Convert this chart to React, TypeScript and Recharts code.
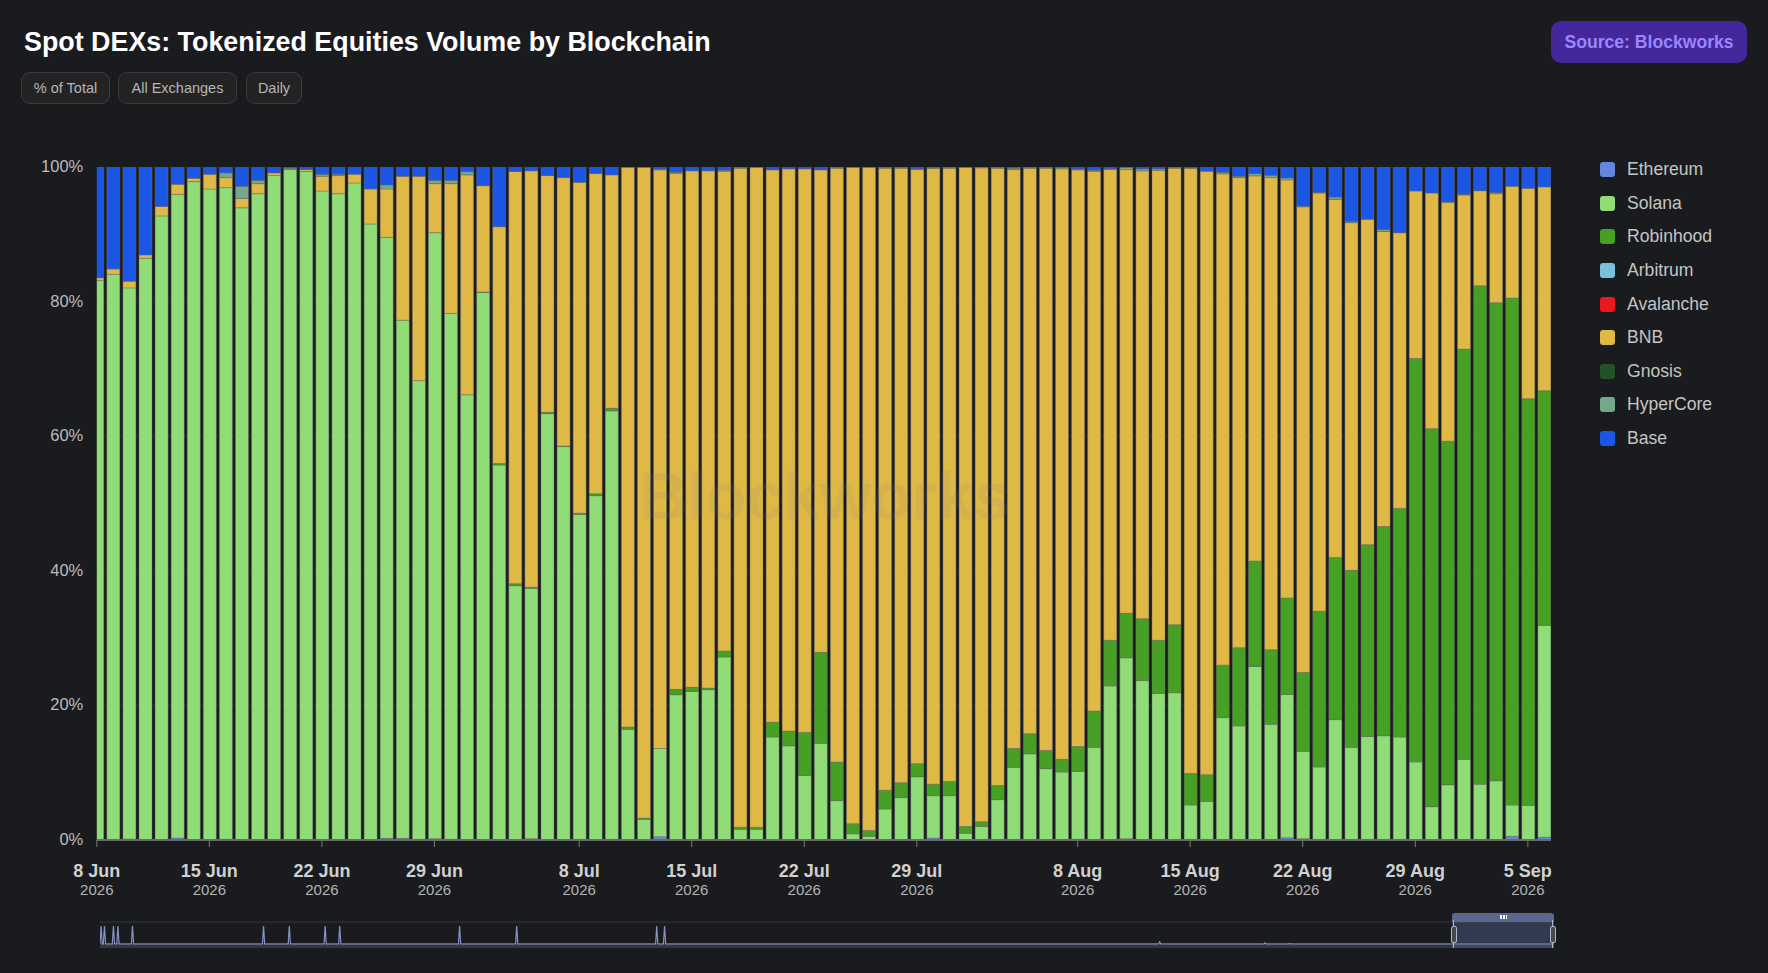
import React from "react";
import { BarChart, Bar, XAxis, YAxis, CartesianGrid, LineChart, Line } from "recharts";

const tickLabels = ["8 Jun", "15 Jun", "22 Jun", "29 Jun", "8 Jul", "15 Jul", "22 Jul", "29 Jul", "8 Aug", "15 Aug", "22 Aug", "29 Aug", "5 Sep"];
const tickDays = [0, 7, 14, 21, 30, 37, 44, 51, 61, 68, 75, 82, 89];

// share of daily volume, one entry per day from 8 Jun to 6 Sep
const ethereum = [
  0, 0, 0.15, 0, 0, 0.3, 0, 0, 0.1, 0.05, 0, 0, 0, 0, 0, 0, 0, 0, 0.25, 0.25, 0.1, 0.2, 0.1, 0, 0, 0, 0, 0.2, 0, 0, 0.1,
  0, 0.1, 0, 0, 0.5, 0, 0, 0, 0, 0, 0, 0, 0, 0, 0, 0, 0, 0, 0, 0, 0, 0.3, 0, 0, 0, 0, 0, 0, 0, 0,
  0.1, 0, 0.05, 0.2, 0, 0, 0, 0, 0, 0, 0, 0, 0, 0.35, 0.2, 0, 0, 0, 0, 0, 0, 0, 0, 0, 0, 0, 0, 0.55, 0, 0.4,
];
const solana = [
  83.2, 84.1, 81.95, 86.5, 92.8, 95.7, 97.9, 96.8, 96.9, 93.95, 96.1, 98.8, 99.7, 99.4, 96.5, 96.1, 97.7, 91.6, 89.35, 77.05, 68.2,
  90.1, 78.2, 66.2, 81.4, 55.75, 37.8, 37.2, 63.4, 58.5, 48.3, 51.2, 63.7, 16.45, 3.07, 13.1, 21.6, 22.1, 22.35, 27.2, 1.6,
  1.6, 15.3, 14.0, 9.6, 14.4, 5.85, 0.9, 0.55, 4.6, 6.3, 9.4, 6.3, 6.6, 1.0, 2.0, 6.0, 10.8, 12.8, 10.6, 10.1,
  10.1, 13.8, 22.85, 26.9, 23.7, 21.8, 21.9, 5.2, 5.75, 18.2, 16.95, 25.8, 17.2, 21.3, 13.0, 10.85, 17.9, 13.8, 15.4, 15.5,
  15.3, 11.6, 4.95, 8.2, 12.0, 8.3, 8.8, 4.65, 5.15, 31.5,
];
const robinhood = [
  0, 0, 0, 0, 0, 0, 0, 0, 0, 0, 0, 0, 0, 0, 0, 0, 0, 0, 0, 0, 0, 0, 0, 0, 0.1, 0.25, 0.3, 0.2, 0.2, 0.1, 0.2,
  0.3, 0.4, 0.35, 0.2, 0, 0.8, 0.6, 0.25, 0.9, 0.3, 0.3, 2.2, 2.2, 6.4, 13.5, 5.75, 1.5, 0.85, 2.8, 2.2, 1.95, 1.7, 2.1, 1.0, 0.7,
  2.1, 2.8, 3.0, 2.7, 1.9, 3.7, 5.4, 6.8, 6.6, 9.2, 7.9, 10.1, 4.7, 3.95, 7.8, 11.65, 15.7, 11.1, 14.35, 11.7,
  23.15, 24.1, 26.3, 28.5, 31.1, 34.0, 60.0, 56.2, 51.1, 61.0, 74.1, 71.1, 75.4, 60.45, 34.9,
];
const bnb = [
  0.4, 0.8, 1.0, 0.5, 1.4, 1.5, 0.5, 2.2, 1.5, 1.4, 1.5, 0.4, 0, 0.3, 2.2, 2.7, 1.3, 5.2, 7.2, 21.4, 30.4,
  7.3, 19.3, 32.7, 15.8, 35.2, 61.3, 61.9, 35.2, 39.9, 49.2, 47.6, 34.7, 83.2, 96.73, 86.05, 76.75, 76.8, 76.9, 71.35, 98.0,
  98.1, 82.15, 83.6, 83.8, 71.75, 88.3, 97.6, 98.6, 92.5, 91.4, 88.35, 91.55, 91.2, 98.0, 97.25, 91.8, 86.1, 84.1, 86.6, 87.8,
  85.75, 80.25, 70.0, 66.0, 66.6, 69.9, 67.9, 90.0, 89.75, 73.05, 69.9, 57.25, 70.2, 62.15, 69.25, 62.2, 53.25, 51.7, 48.4, 43.9,
  41.0, 24.9, 35.05, 35.55, 22.9, 14.15, 16.2, 16.6, 31.3, 30.3,
];
const hyperCore = [
  0, 0, 0, 0, 0, 0, 0, 0, 0.7, 1.8, 0.5, 0, 0.2, 0, 0.3, 0.2, 0, 0, 0.6, 0, 0, 0.5, 0.5, 0.5, 0, 0, 0, 0, 0, 0, 0,
  0, 0, 0, 0, 0.1, 0.15, 0, 0, 0.15, 0.1, 0, 0, 0, 0, 0, 0.1, 0, 0, 0.1, 0.1, 0.1, 0.1, 0.1, 0, 0.05, 0.1, 0.2, 0.1, 0.1, 0.2,
  0.1, 0.15, 0.1, 0.3, 0.3, 0.2, 0.1, 0, 0, 0.25, 0.2, 0.35, 0.35, 0.3, 0.1, 0.1, 0.35, 0.2, 0, 0.3, 0, 0, 0, 0, 0.1, 0, 0.2, 0, 0, 0,
];
const base = [
  16.4, 15.1, 16.9, 13.0, 5.8, 2.5, 1.6, 1.0, 0.8, 2.8, 1.9, 0.8, 0.1, 0.3, 1.0, 1.0, 1.0, 3.2, 2.6, 1.3, 1.3,
  1.9, 1.9, 0.6, 2.7, 8.8, 0.6, 0.5, 1.2, 1.5, 2.2, 0.9, 1.1, 0, 0, 0.25, 0.7, 0.5, 0.5, 0.4, 0,
  0, 0.35, 0.2, 0.2, 0.35, 0, 0, 0, 0, 0, 0.2, 0.05, 0, 0, 0, 0, 0.1, 0, 0, 0,
  0.25, 0.4, 0.2, 0, 0.2, 0.2, 0, 0.1, 0.55, 0.7, 1.3, 0.9, 1.15, 1.55, 5.75, 3.7, 4.4, 8.0, 7.7, 9.2,
  9.7, 3.5, 3.8, 5.15, 4.0, 3.45, 3.7, 2.8, 3.1, 2.9,
];

const seriesNames = ["Ethereum", "Solana", "Robinhood", "Arbitrum", "Avalanche", "BNB", "Gnosis", "HyperCore", "Base"];
const seriesColors = ["#6488e0", "#90dd78", "#46a023", "#78c0dc", "#e8181c", "#e0b846", "#235226", "#73a88a", "#1c56e4"];
const seriesValues = [ethereum, solana, robinhood, [], [], bnb, [], hyperCore, base];

const yTicks = [0, 0.2, 0.4, 0.6, 0.8, 1];

// whole history for the zoom strip, about 1300 days
const overviewDays = [
  0, 1, 2, 3, 4, 5, 6, 7, 11, 12, 13, 15, 16, 17, 28, 29, 30, 145, 146, 147, 168, 169, 170, 200, 201, 202, 213, 214, 215,
  320, 321, 322, 371, 372, 373, 496, 497, 498, 503, 504, 505, 945, 946, 947, 1039, 1040, 1041, 1061, 1062, 1063, 1298,
];
const overviewVolume = [
  0, 100, 0, 0, 100, 0, 0, 0, 0, 100, 0, 0, 100, 0, 0, 100, 0, 0, 100, 0, 0, 100, 0, 0, 100, 0, 0, 100, 0,
  0, 100, 0, 0, 100, 0, 0, 100, 0, 0, 100, 0, 0, 12, 0, 0, 6, 0, 0, 3, 0, 0,
];

const tableRows = solana.map((_, day) => {
  const row: Record<string, number> = { day };
  seriesNames.forEach((name, i) => {
    row[name] = seriesValues[i][day] ?? 0;
  });
  return row;
});

const overviewRows = overviewDays.map((day, i) => ({ day, volume: overviewVolume[i] }));

const sans = "'Liberation Sans', Arial, sans-serif";

function DateTick({ x, y, payload }: any) {
  const label = tickLabels[tickDays.indexOf(payload.value)];
  return (
    <g>
      <text x={x} y={y + 27.5} textAnchor="middle" fontFamily={sans} fontSize={18} fontWeight={700} fill="#d0d0d0">
        {label}
      </text>
      <text x={x} y={y + 45.5} textAnchor="middle" fontFamily={sans} fontSize={15} fill="#b4b4b4">
        2026
      </text>
    </g>
  );
}

const chipStyle: React.CSSProperties = {
  position: "absolute",
  top: 72,
  height: 32,
  boxSizing: "border-box",
  border: "1.5px solid #3a3b3c",
  borderRadius: 9,
  background: "#232323",
  color: "#b6b6b6",
  fontSize: 14.5,
  lineHeight: "31px",
  textAlign: "center",
};

function App() {
  return (
    <div style={{ position: "absolute", left: 0, top: 0, width: 1768, height: 973, overflow: "hidden", background: "#1a1b1f", fontFamily: sans }}>
      <BarChart
        width={1768}
        height={973}
        data={tableRows}
        stackOffset="expand"
        margin={{ top: 167.5, right: 217, bottom: 0, left: 36.8 }}
        style={{ position: "absolute", left: 0, top: 0 }}
      >
        {seriesNames.map((name, i) => (
          <Bar
            key={name}
            dataKey={name}
            stackId="share"
            barSize={13}
            fill={seriesColors[i]}
            stroke="rgba(110,110,110,0.45)"
            strokeWidth={1}
            isAnimationActive={false}
          />
        ))}
        <CartesianGrid vertical={false} stroke="rgba(255,255,255,0.07)" />
        <XAxis
          type="number"
          dataKey="day"
          domain={[0, 90.44]}
          allowDataOverflow
          ticks={tickDays}
          interval={0}
          height={133}
          tick={<DateTick />}
          tickLine={{ stroke: "#777" }}
          tickSize={7}
          axisLine={{ stroke: "#6a6a6a", strokeWidth: 2 }}
        />
        <YAxis
          width={60}
          domain={[0, 1]}
          ticks={yTicks}
          tickFormatter={(v: number) => `${Math.round(v * 100)}%`}
          tick={{ fill: "#bcbcbc", fontSize: 16.5, fontFamily: sans, dy: -1 }}
          tickLine={false}
          axisLine={false}
          tickMargin={7.5}
        />
      </BarChart>

      <div
        style={{
          position: "absolute",
          left: 640,
          top: 458,
          fontSize: 66,
          fontWeight: 700,
          color: "rgba(130,130,130,0.11)",
          pointerEvents: "none",
        }}
      >
        Blockworks
      </div>

      <div style={{ position: "absolute", left: 24, top: 27, fontSize: 26.85, fontWeight: 700, color: "#ffffff", whiteSpace: "nowrap" }}>
        Spot DEXs: Tokenized Equities Volume by Blockchain
      </div>
      <div style={{ ...chipStyle, left: 21, width: 89 }}>% of Total</div>
      <div style={{ ...chipStyle, left: 118, width: 119 }}>All Exchanges</div>
      <div style={{ ...chipStyle, left: 246, width: 56 }}>Daily</div>
      <div
        style={{
          position: "absolute",
          left: 1551,
          top: 21,
          width: 196,
          height: 42,
          borderRadius: 10,
          background: "#44279a",
          color: "#9a86ff",
          fontSize: 17.6,
          fontWeight: 700,
          lineHeight: "43px",
          textAlign: "center",
        }}
      >
        Source: Blockworks
      </div>

      {seriesNames.map((name, i) => (
        <div key={name} style={{ position: "absolute", left: 1600, top: 153.2 + i * 33.6, height: 33, display: "flex", alignItems: "center" }}>
          <span style={{ width: 15, height: 15, borderRadius: 3, background: seriesColors[i], marginRight: 12 }} />
          <span style={{ color: "#c4c4c4", fontSize: 17.6 }}>{name}</span>
        </div>
      ))}

      {/* zoom strip */}
      <div style={{ position: "absolute", left: 100, top: 921, width: 1454, height: 27, boxSizing: "border-box", borderTop: "2px solid #26282e", background: "#1a1b1f" }} />
      <div style={{ position: "absolute", left: 100, top: 943, width: 1454, height: 5, background: "#34363e" }} />
      <LineChart
        width={1454}
        height={24}
        data={overviewRows}
        margin={{ top: 3, right: 0, bottom: 3, left: 0 }}
        style={{ position: "absolute", left: 100, top: 923 }}
      >
        <XAxis type="number" dataKey="day" domain={[0, 1298]} hide />
        <YAxis domain={[0, 100]} hide />
        <Line dataKey="volume" stroke="#8594c4" strokeWidth={1.2} dot={false} isAnimationActive={false} />
      </LineChart>
      <div style={{ position: "absolute", left: 1452, top: 921, width: 102, height: 27, background: "rgba(90,110,160,0.38)" }} />
      <div style={{ position: "absolute", left: 1452, top: 913, width: 102, height: 9, background: "#5a6890", borderRadius: "3px 3px 0 0" }} />
      <div style={{ position: "absolute", left: 1500, top: 915, width: 7, height: 4, background: "repeating-linear-gradient(90deg,#fff 0 1.5px,transparent 1.5px 3px)" }} />
      {[1451, 1550].map((left) => (
        <React.Fragment key={left}>
          <div style={{ position: "absolute", left: left + 2, top: 920, width: 1, height: 28, background: "#a8b6d8" }} />
          <div style={{ position: "absolute", left, top: 926, width: 6, height: 17, boxSizing: "border-box", border: "1.5px solid #a8b6d8", borderRadius: 2, background: "#47484c" }} />
        </React.Fragment>
      ))}
    </div>
  );
}

export default App;
